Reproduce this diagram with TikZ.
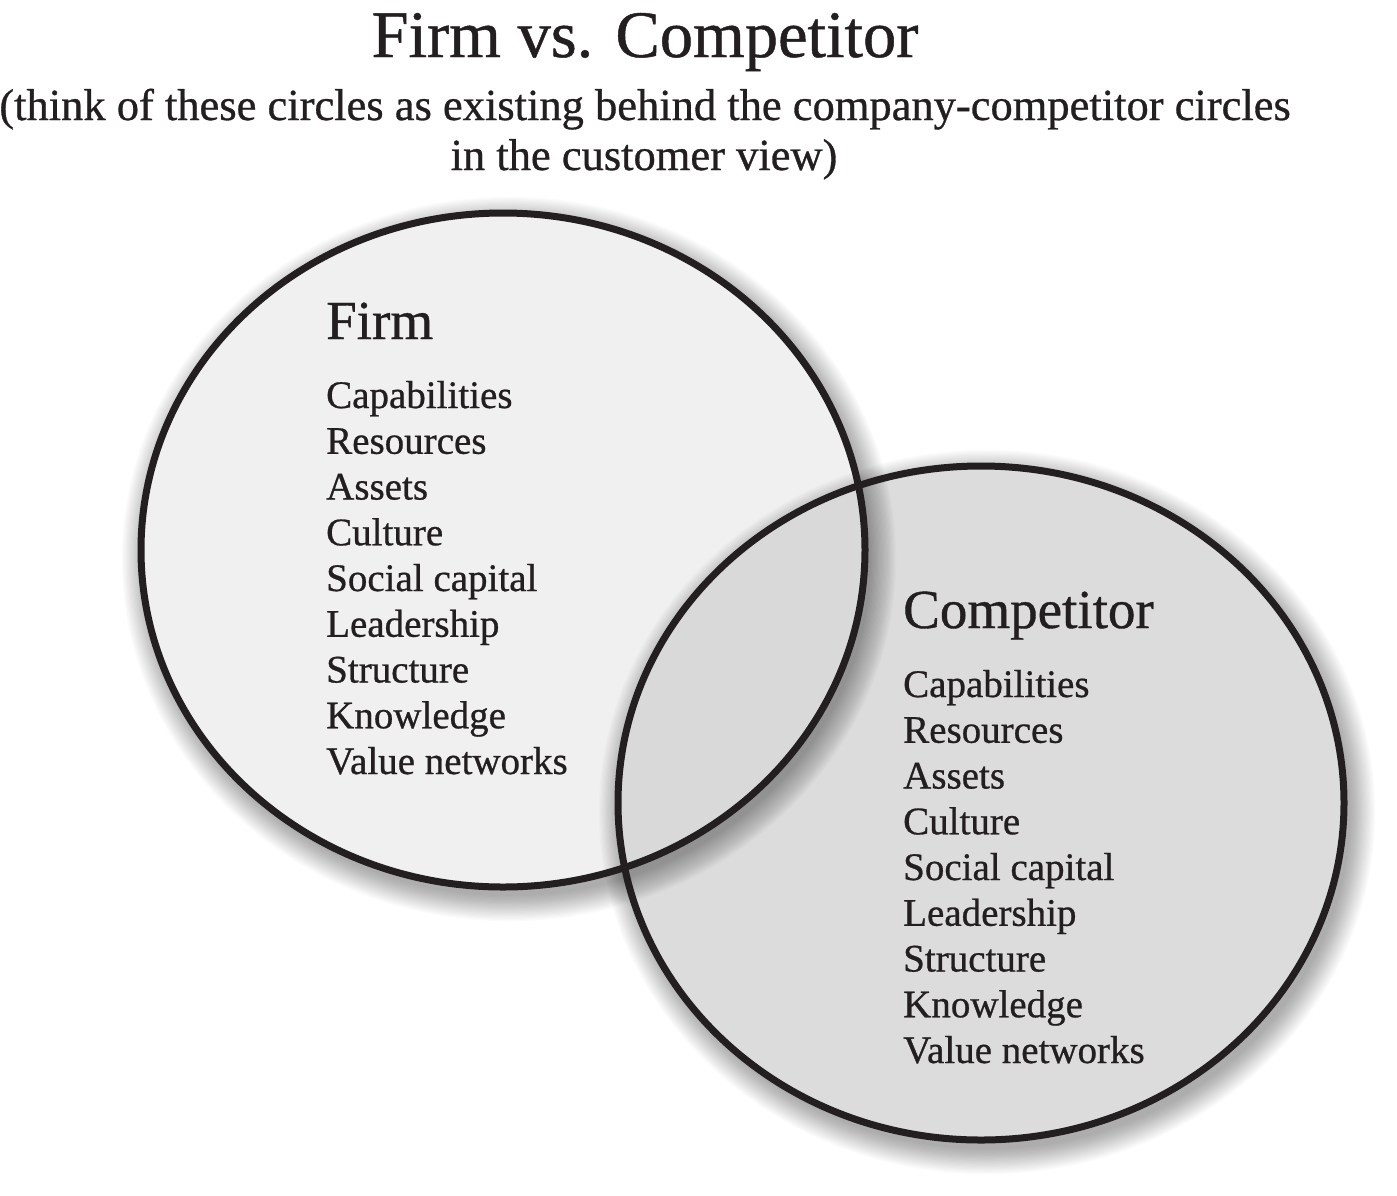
\documentclass[tikz,border=0pt]{standalone}
\usepackage{fontspec}
\setmainfont{Liberation Serif}[FakeBold=0.7]
\definecolor{ink}{HTML}{231F20}
\definecolor{firmfill}{HTML}{F0F0F0}
\definecolor{compfill}{HTML}{DCDCDC}
\definecolor{lensfill}{HTML}{D9D9D9}
\newcommand{\softshadow}[4]{%
  \foreach \k in {0,...,21}{
    \pgfmathsetmacro{\rxs}{#3+\k*1.2}
    \pgfmathsetmacro{\rys}{#4+\k*1.2}
    \fill[black, opacity=0.016] (#1+6,#2+9) ellipse [x radius=\rxs pt, y radius=\rys pt];
  }}
\begin{document}
\begin{tikzpicture}[x=1pt,y=-1pt,
  ring/.style={draw=ink, line width=7pt},
  txt/.style={inner sep=0pt, text=ink},
  item/.style={txt, anchor=base west, font=\fontsize{39}{46}\selectfont},
  head/.style={txt, anchor=base west, font=\fontsize{55}{60}\selectfont},
  ttl/.style={txt, anchor=base, font=\fontsize{66.5}{70}\selectfont},
  sub/.style={txt, anchor=base, font=\fontsize{44.5}{50}\selectfont},
]
\path[fill=white, use as bounding box] (0,0) rectangle (1397,1195);
% circles with soft shadows
\softshadow{503}{550}{362}{337}
\fill[firmfill] (503,550) ellipse [x radius=362pt, y radius=337pt];
\softshadow{981}{803}{363}{337}
\fill[compfill] (981,803) ellipse [x radius=363pt, y radius=337pt];
\begin{scope}
  \clip (981,803) ellipse [x radius=363pt, y radius=337pt];
  \softshadow{503}{550}{362}{337}
  \fill[lensfill] (503,550) ellipse [x radius=362pt, y radius=337pt];
\end{scope}
\draw[ring] (503,550) ellipse [x radius=362pt, y radius=337pt];
\draw[ring] (981,803) ellipse [x radius=363pt, y radius=337pt];
% titles
\node[ttl] (title) at (645,57) {Firm vs. Competitor};
\node[sub] (sub1) at (645,120) {(think of these circles as existing behind the company-competitor circles};
\node[sub] (sub2) at (644,170) {in the customer view)};
% labels
\node[head] (firm) at (326,339) {Firm};
\node[head] (comp) at (903,628) {Competitor};
\foreach \t [count=\i] in {Capabilities,Resources,Assets,Culture,Social capital,Leadership,Structure,Knowledge,Value networks}{
  \node[item] (f\i) at (326,{408+(\i-1)*45.75}) {\t};
  \node[item] (c\i) at (903,{697+(\i-1)*45.75}) {\t};
}
\end{tikzpicture}
\end{document}
